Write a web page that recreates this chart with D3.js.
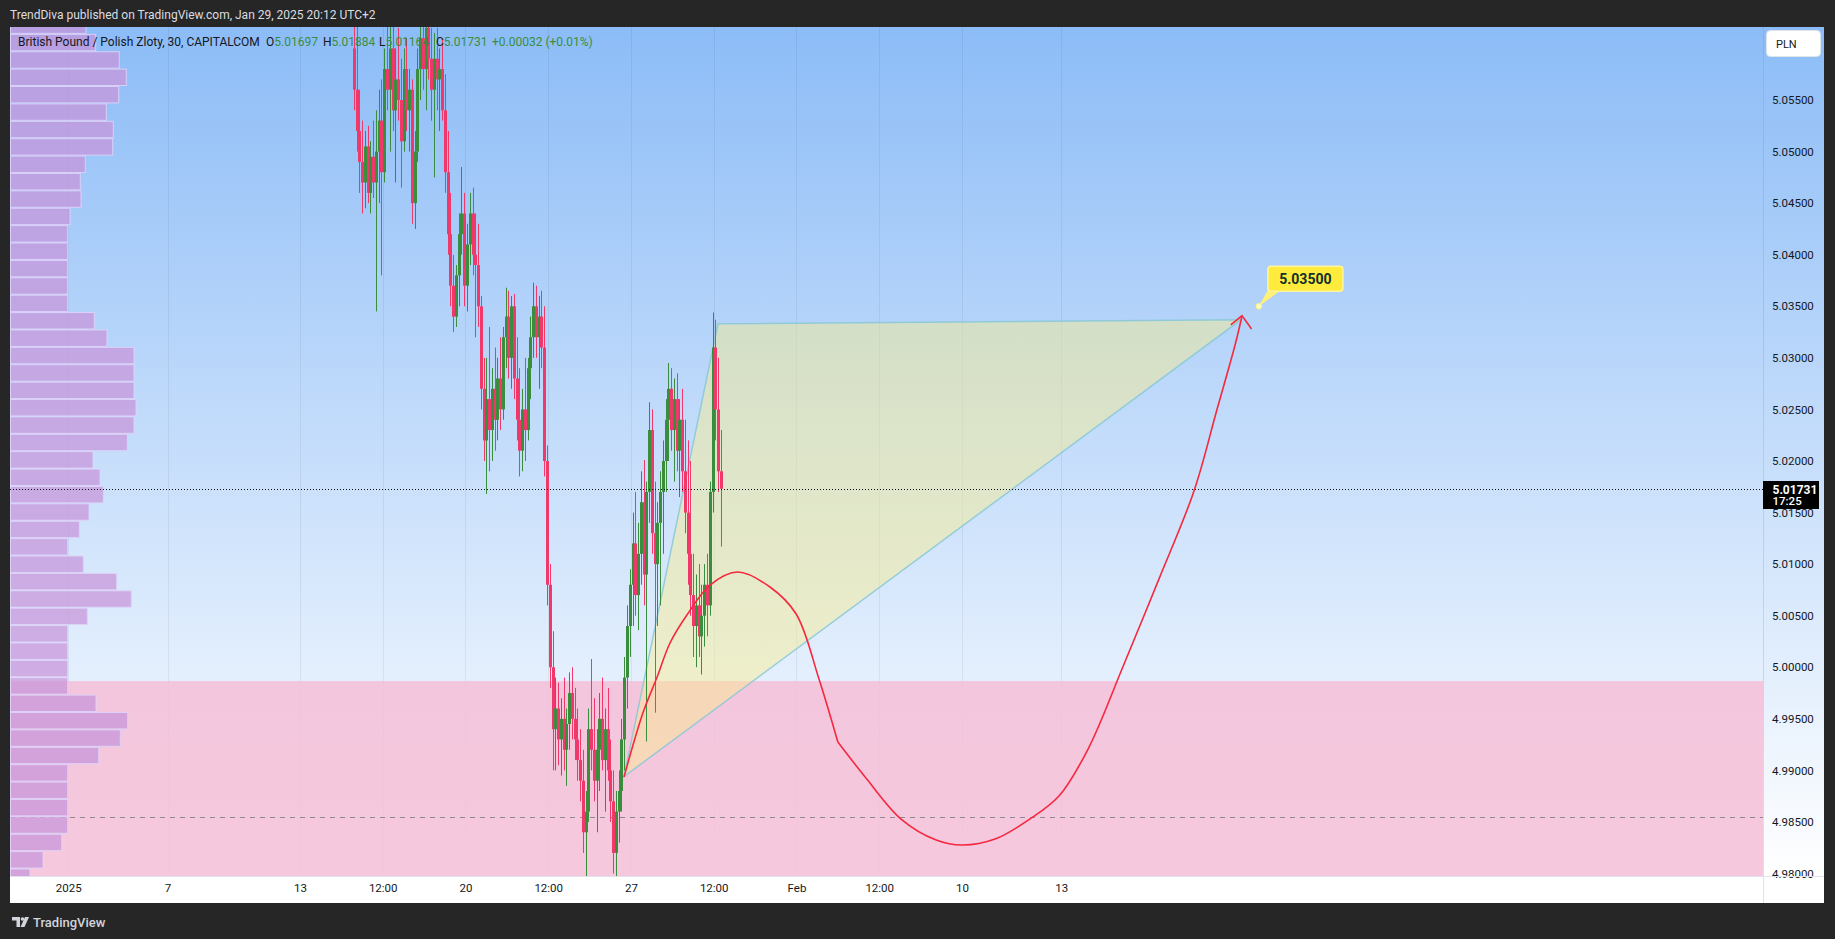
<!DOCTYPE html>
<html><head><meta charset="utf-8">
<script src="https://cdn.jsdelivr.net/npm/d3@7"></script>
<style>
html,body{margin:0;padding:0;background:#262626;overflow:hidden}
svg{display:block}
text{font-family:Roboto,"Liberation Sans",sans-serif}
</style></head><body>
<svg id="c" width="1835" height="939"></svg>
<script>
// ---------------- DATA ----------------
const titleText = "TrendDiva published on TradingView.com, Jan 29, 2025 20:12 UTC+2";
const symbolText = "British Pound / Polish Zloty, 30, CAPITALCOM";
const ohlcLabels = ["O","H","L","C"];
const ohlcValues = ["5.01697","5.01884","5.01164","5.01731"];
const changeText = "+0.00032 (+0.01%)";
const currencyText = "PLN";
const lastPrice = 5.01731;
const lastTimer = "17:25";

const priceTicks = [4.98,4.985,4.99,4.995,5.00,5.005,5.01,5.015,5.02,5.025,5.03,5.035,5.04,5.045,5.05,5.055];
// time axis expressed in trading days from Jan 13 00:00
const timeTickPos    = [-7,-4,0,2.5,5,7.5,10,12.5,15,17.5,20,23];
const timeTickLabels = ["2025","7","13","12:00","20","12:00","27","12:00","Feb","12:00","10","13"];
const viewDays  = [-8.76, 44.2];
const viewPrice = [4.97976, 5.06208];

// 2-hour candles, first one at trading-day 1.63
const barStartDay = 1.63, barStepDay = 1/12;
const opens = [5.0600,5.0560,5.0520,5.0490,5.0470,5.0505,5.0460,5.0495,5.0470,5.0500,5.0530,5.0480,5.0580,5.0560,5.0600,5.0540,5.0570,5.0550,5.0510,5.0580,
5.0540,5.0560,5.0450,5.0500,5.0580,5.0610,5.0580,5.0620,5.0590,5.0560,5.0590,5.0570,5.0580,5.0540,5.0480,5.0420,5.0370,5.0340,5.0380,5.0420,
5.0440,5.0370,5.0410,5.0440,5.0400,5.0390,5.0350,5.0270,5.0220,5.0260,5.0230,5.0270,5.0240,5.0280,5.0250,5.0320,5.0340,5.0300,5.0350,5.0280,
5.0240,5.0210,5.0250,5.0230,5.0290,5.0320,5.0350,5.0320,5.0340,5.0310,5.0200,5.0080,5.0000,4.9940,4.9960,4.9930,4.9950,4.9920,4.9945,4.9975,
4.9950,4.9930,4.9910,4.9890,4.9840,4.9860,4.9940,4.9920,4.9890,4.9920,4.9950,4.9910,4.9940,4.9900,4.9870,4.9820,4.9860,4.9880,4.9930,4.9990,
5.0040,5.0080,5.0120,5.0070,5.0110,5.0160,5.0090,5.0170,5.0230,5.0130,5.0100,5.0140,5.0170,5.0200,5.0240,5.0270,5.0230,5.0260,5.0210,5.0240,
5.0190,5.0150,5.0110,5.0070,5.0040,5.0060,5.0030,5.0050,5.0080,5.0060,5.0170,5.0310,5.0250,5.0190];
const highs = [5.0640,5.0630,5.0560,5.0530,5.0520,5.0525,5.0510,5.0530,5.0540,5.0560,5.0570,5.0600,5.0635,5.0630,5.0630,5.0600,5.0620,5.0590,5.0600,5.0610,
5.0580,5.0570,5.0520,5.0600,5.0640,5.0640,5.0630,5.0640,5.0620,5.0615,5.0620,5.0600,5.0610,5.0575,5.0520,5.0460,5.0400,5.0390,5.0440,5.0485,
5.0460,5.0430,5.0460,5.0465,5.0440,5.0430,5.0360,5.0300,5.0300,5.0330,5.0290,5.0310,5.0300,5.0320,5.0330,5.0368,5.0365,5.0360,5.0362,5.0320,
5.0290,5.0270,5.0300,5.0300,5.0340,5.0373,5.0370,5.0360,5.0365,5.0350,5.0215,5.0100,5.0035,4.9990,4.9985,4.9970,4.9990,4.9960,4.9995,5.0000,
4.9980,4.9960,4.9940,4.9920,4.9880,4.9960,5.0008,4.9970,4.9940,4.9975,4.9990,4.9960,4.9980,4.9930,4.9900,4.9880,4.9900,4.9950,5.0010,5.0060,
5.0095,5.0150,5.0170,5.0140,5.0190,5.0201,5.0180,5.0257,5.0250,5.0180,5.0160,5.0190,5.0220,5.0260,5.0295,5.0290,5.0280,5.0285,5.0260,5.0270,
5.0240,5.0220,5.0200,5.0110,5.0090,5.0100,5.0080,5.0100,5.0110,5.0180,5.0344,5.0337,5.0300,5.0230];
const lows = [5.0540,5.0500,5.0460,5.0440,5.0445,5.0450,5.0440,5.0455,5.0345,5.0450,5.0380,5.0470,5.0540,5.0500,5.0520,5.0470,5.0530,5.0465,5.0500,5.0520,
5.0500,5.0430,5.0425,5.0490,5.0550,5.0560,5.0540,5.0570,5.0530,5.0475,5.0540,5.0520,5.0530,5.0460,5.0400,5.0350,5.0325,5.0330,5.0350,5.0400,
5.0350,5.0345,5.0390,5.0380,5.0320,5.0330,5.0250,5.0200,5.0168,5.0190,5.0200,5.0210,5.0220,5.0230,5.0240,5.0290,5.0280,5.0270,5.0260,5.0220,
5.0185,5.0190,5.0200,5.0220,5.0260,5.0300,5.0300,5.0270,5.0290,5.0185,5.0060,4.9980,4.9900,4.9900,4.9905,4.9895,4.9900,4.9885,4.9920,4.9930,
4.9910,4.9890,4.9870,4.9820,4.9790,4.9850,4.9900,4.9870,4.9840,4.9880,4.9900,4.9860,4.9890,4.9850,4.9800,4.9790,4.9830,4.9860,4.9900,4.9960,
5.0010,5.0040,5.0050,5.0036,5.0080,5.0060,4.9928,5.0140,5.0110,4.9956,5.0040,5.0060,5.0110,5.0170,5.0200,5.0210,5.0180,5.0190,5.0165,5.0170,
5.0130,5.0080,5.0050,5.0010,5.0000,5.0010,4.9993,5.0020,5.0030,5.0050,5.0150,5.0220,5.0170,5.0117];
const closes = [5.0560,5.0520,5.0490,5.0470,5.0505,5.0460,5.0495,5.0470,5.0500,5.0530,5.0480,5.0580,5.0560,5.0600,5.0540,5.0570,5.0550,5.0510,5.0580,5.0540,
5.0560,5.0450,5.0500,5.0580,5.0610,5.0580,5.0620,5.0590,5.0560,5.0590,5.0570,5.0580,5.0540,5.0480,5.0420,5.0370,5.0340,5.0380,5.0420,5.0440,
5.0370,5.0410,5.0440,5.0400,5.0390,5.0350,5.0270,5.0220,5.0260,5.0230,5.0270,5.0240,5.0280,5.0250,5.0320,5.0340,5.0300,5.0350,5.0280,5.0240,
5.0210,5.0250,5.0230,5.0290,5.0320,5.0350,5.0320,5.0340,5.0310,5.0200,5.0080,5.0000,4.9940,4.9960,4.9930,4.9950,4.9920,4.9945,4.9975,4.9950,
4.9930,4.9910,4.9890,4.9840,4.9860,4.9940,4.9920,4.9890,4.9920,4.9950,4.9910,4.9940,4.9900,4.9870,4.9820,4.9860,4.9880,4.9930,4.9990,5.0040,
5.0080,5.0120,5.0070,5.0110,5.0160,5.0090,5.0170,5.0230,5.0130,5.0100,5.0140,5.0170,5.0200,5.0240,5.0270,5.0230,5.0260,5.0210,5.0240,5.0190,
5.0150,5.0110,5.0070,5.0040,5.0060,5.0030,5.0050,5.0080,5.0060,5.0170,5.0310,5.0250,5.0190,5.01731];

// visible-range volume profile: 50 rows from top price to bottom price
const profileTop = 5.0631, profileBottom = 4.9788;
const profileVolumes = [755,852,1088,1158,1082,958,1028,1022,748,698,705,595,572,572,572,572,572,838,965,1235,
1235,1235,1255,1235,1168,825,895,928,785,688,572,728,1062,1208,768,572,572,572,572,855,
1172,1098,882,572,572,572,572,512,325,195];

// drawings
const supportZoneTop = 4.99866;
const dashedLevel = 4.98545;
const triangle = [[9.79,4.9894],[12.63,5.0333],[28.43,5.0337]];
const pathUp = [[9.79,4.98936],[10.36,4.99556],[10.79,4.99905],[11.18,5.00235],[11.69,5.00506],[12.39,5.00797],[13.23,5.00923],[14.20,5.00778],[14.99,5.00516],[15.68,4.99886],[16.25,4.99275]];
const pathDown = [[16.25,4.99275],[17.10,4.98926],[18.16,4.98528],[19.22,4.98325],[20.00,4.98276],[21.00,4.98334],[22.05,4.98528],[22.93,4.98751],[23.81,4.99207],[24.86,5.00002],[25.95,5.00855],[27.01,5.01709],[27.70,5.02494],[28.25,5.03124],[28.46,5.03406]];
const arrowHead = [[28.12,5.0332],[28.46,5.0341],[28.75,5.0328]];
const targetPoint = [28.97, 5.035];
const targetText = "5.03500";

// ---------------- LAYOUT ----------------
const W=1835,H=939,L=10,R=1763,T=27,B=876,AX=1824,TB=903;
const UP="#3a8d3c", DOWN="#f0386b", INK="#131722";
const svg = d3.select("#c");
const x = d3.scaleLinear().domain(viewDays).range([L,R]);
const y = d3.scaleLinear().domain(viewPrice).range([B,T]);

const defs = svg.append("defs");
const grad = defs.append("linearGradient").attr("id","bg").attr("gradientUnits","userSpaceOnUse")
  .attr("x1",0).attr("y1",T).attr("x2",0).attr("y2",B);
grad.append("stop").attr("offset",0).attr("stop-color","#8cbcf7");
grad.append("stop").attr("offset",1).attr("stop-color","#ffffff");
defs.append("clipPath").attr("id","plot").append("rect").attr("x",L).attr("y",T).attr("width",R-L).attr("height",B-T);

svg.append("rect").attr("width",W).attr("height",H).attr("fill","#262626");
svg.append("rect").attr("x",L).attr("y",T).attr("width",AX-L).attr("height",B-T).attr("fill","url(#bg)");
svg.append("rect").attr("x",L).attr("y",B).attr("width",AX-L).attr("height",TB-B).attr("fill","#ffffff");

const plot = svg.append("g").attr("clip-path","url(#plot)");

// grid
plot.append("g").selectAll("line").data(timeTickPos).join("line")
  .attr("x1",d=>Math.round(x(d))+0.5).attr("x2",d=>Math.round(x(d))+0.5)
  .attr("y1",T).attr("y2",B).attr("stroke","rgba(0,0,0,0.06)");

// support zone
plot.append("rect").attr("x",L).attr("y",y(supportZoneTop)).attr("width",R-L).attr("height",B-y(supportZoneTop))
  .attr("fill","rgba(245,190,215,0.85)");

// dashed level
plot.append("line").attr("x1",L).attr("x2",R).attr("y1",Math.round(y(dashedLevel))+0.5).attr("y2",Math.round(y(dashedLevel))+0.5)
  .attr("stroke","#8a8a92").attr("stroke-dasharray","5,5");

// volume profile
const rowH = (y(profileBottom)-y(profileTop))/profileVolumes.length;
const vx = d3.scaleLinear().domain([0,1255]).range([0,125.5]);
plot.append("g").selectAll("rect").data(profileVolumes).join("rect")
  .attr("x",L+0.5).attr("y",(d,i)=>y(profileTop)+i*rowH+0.5)
  .attr("width",d=>vx(d)).attr("height",rowH-1)
  .attr("fill","rgba(200,148,218,0.72)").attr("stroke","rgba(222,212,250,0.9)").attr("stroke-width",1);

// triangle
plot.append("path").attr("d",d3.line().x(d=>x(d[0])).y(d=>y(d[1]))(triangle)+"Z")
  .attr("fill","rgba(251,238,140,0.45)").attr("stroke","rgba(135,200,215,0.85)").attr("stroke-width",1.5);

// candles
const candles = plot.append("g");
opens.forEach((o,i)=>{
  const c=closes[i], h=highs[i], l=lows[i];
  const cx = Math.round(x(barStartDay+i*barStepDay));
  const col = c>=o?UP:DOWN;
  candles.append("rect").attr("x",cx).attr("width",1).attr("y",y(h)).attr("height",Math.max(1,y(l)-y(h))).attr("fill",col);
  const top=y(Math.max(o,c)), bot=y(Math.min(o,c));
  candles.append("rect").attr("x",cx-1).attr("width",3).attr("y",top).attr("height",Math.max(1,bot-top)).attr("fill",col);
});

// projected path
const lineGen = d3.line().x(d=>x(d[0])).y(d=>y(d[1])).curve(d3.curveCatmullRom.alpha(0.5));
[pathUp,pathDown].forEach(p=>plot.append("path").attr("d",lineGen(p)).attr("fill","none").attr("stroke","#f5283e").attr("stroke-width",1.6));
plot.append("path").attr("d",d3.line().x(d=>x(d[0])).y(d=>y(d[1]))(arrowHead)).attr("fill","none").attr("stroke","#f5283e").attr("stroke-width",1.6);

// current price line
plot.append("line").attr("x1",L).attr("x2",R).attr("y1",Math.round(y(lastPrice))+0.5).attr("y2",Math.round(y(lastPrice))+0.5)
  .attr("stroke","#111").attr("stroke-dasharray","1,2");

// target callout
const tx=x(targetPoint[0]), ty=y(targetPoint[1]);
svg.append("path").attr("d",`M${tx},${ty} L${tx+9},${ty-16} L${tx+22},${ty-16} Z`).attr("fill","#fff176");
svg.append("rect").attr("x",tx+9).attr("y",ty-40).attr("width",75).attr("height",25).attr("rx",3)
  .attr("fill","#ffeb3b").attr("stroke","#fff59d").attr("stroke-width",1.5);
svg.append("circle").attr("cx",tx).attr("cy",ty).attr("r",2.8).attr("fill","#fffbc4").attr("stroke","#fff176");
svg.append("text").attr("x",tx+46.5).attr("y",ty-27.5).attr("dy","0.35em").attr("text-anchor","middle")
  .attr("font-size",14).attr("font-weight",700).attr("fill","#10302c").text(targetText);

// legend
const lg = svg.append("text").attr("y",45.5).attr("font-size",12).attr("fill",INK);
lg.append("tspan").attr("x",18).text(symbolText);
const legX=[266,323,379,436];
ohlcLabels.forEach((lab,i)=>{
  lg.append("tspan").attr("x",legX[i]).text(lab);
  lg.append("tspan").attr("fill",UP).text(ohlcValues[i]);
});
lg.append("tspan").attr("x",492).attr("fill",UP).text(changeText);

// price axis
const ya = svg.append("g").attr("transform",`translate(${R},0)`)
  .call(d3.axisRight(y).tickValues(priceTicks).tickFormat(d3.format(".5f")).tickSize(0).tickPadding(9));
ya.select(".domain").remove();
ya.selectAll("text").attr("font-size",11.5).attr("fill",INK).attr("font-family","Roboto");
svg.append("line").attr("x1",R+0.5).attr("x2",R+0.5).attr("y1",T).attr("y2",TB).attr("stroke","rgba(120,140,170,0.25)");

// time axis
const xa = svg.append("g").attr("transform",`translate(0,${B})`)
  .call(d3.axisBottom(x).tickValues(timeTickPos).tickFormat((d,i)=>timeTickLabels[i]).tickSize(0).tickPadding(8));
xa.select(".domain").remove();
xa.selectAll("text").attr("font-size",11.5).attr("fill",INK).attr("font-family","Roboto");
svg.append("line").attr("x1",L).attr("x2",AX).attr("y1",B+0.5).attr("y2",B+0.5).attr("stroke","#e0e3eb");

// last price label (covers the upper part of the 5.01500 tick, as in the original)
svg.append("rect").attr("x",R).attr("y",481).attr("width",56).attr("height",28).attr("fill","#000");
svg.append("text").attr("x",R+9.5).attr("y",489.5).attr("dy","0.35em").attr("font-size",12).attr("font-weight",700).attr("fill","#fff").text(lastPrice.toFixed(5));
svg.append("text").attr("x",R+9.5).attr("y",500.5).attr("dy","0.35em").attr("font-size",11.5).attr("font-weight",500).attr("fill","#fff").text(lastTimer);

// currency button
svg.append("rect").attr("x",1766.5).attr("y",30.5).attr("width",54).attr("height",26).attr("rx",4).attr("fill","#fff").attr("stroke","#dfe3ea");
svg.append("text").attr("x",1776).attr("y",44).attr("dy","0.35em").attr("font-size",11).attr("fill",INK).text(currencyText);

// header & footer
svg.append("text").attr("x",10).attr("y",15).attr("dy","0.35em").attr("font-size",12).attr("fill","#dcdde0").text(titleText);
const logo = svg.append("g").attr("fill","#d1d4dc");
logo.append("path").attr("d","M12,917 h8 v10 h-3.5 v-6.5 h-4.5 Z");
logo.append("circle").attr("cx",22.5).attr("cy",919).attr("r",1.8);
logo.append("path").attr("d","M25,917 h4 l-4.5,10 h-4 Z");
svg.append("text").attr("x",33).attr("y",922).attr("dy","0.35em").attr("font-size",13).attr("font-weight",500).attr("fill","#d1d4dc").text("TradingView");
</script></body></html>
